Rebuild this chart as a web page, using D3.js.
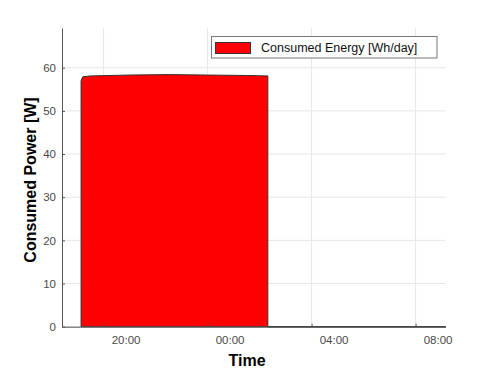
<!DOCTYPE html>
<html><head><meta charset="utf-8">
<script src="https://cdn.jsdelivr.net/npm/d3@7"></script>
<style>body{margin:0;background:#fff}svg{display:block;font-family:"Liberation Sans",Arial,sans-serif}</style>
</head><body>
<svg id="c" width="496" height="371"></svg>
<script>
const times = ["2021-01-01T19:08","2021-01-01T19:08","2021-01-01T19:12","2021-01-01T19:30","2021-01-01T21:00","2021-01-01T22:30","2021-01-02T00:00","2021-01-02T01:30","2021-01-02T02:19","2021-01-02T02:19","2021-01-02T09:09"];
const power = [0,57,57.9,58.1,58.3,58.4,58.3,58.2,58.1,0,0];
const yTicks = [0,10,20,30,40,50,60];
const xTickTimes = ["2021-01-01T20:00","2021-01-02T00:00","2021-01-02T04:00","2021-01-02T08:00"];
const xTickLabels = ["20:00","00:00","04:00","08:00"];
const legendLabel = "Consumed Energy [Wh/day]";
const xDomain = ["2021-01-01T18:24","2021-01-02T09:09"];
const yDomain = [0,69.2];

const parse = d3.isoParse;
const data = times.map((t,i)=>({t:parse(t), v:power[i]}));
const svg = d3.select("#c");
const L=62, R=445.5, T=28, B=326.7;
const x = d3.scaleTime().domain(xDomain.map(parse)).range([L,R]);
const y = d3.scaleLinear().domain(yDomain).range([B,T]);

const grid = svg.append("g").attr("stroke","#e6e6e6").attr("stroke-width",1);
yTicks.forEach(v=>grid.append("line").attr("x1",L).attr("x2",R).attr("y1",y(v)).attr("y2",y(v)));
xTickTimes.forEach(t=>grid.append("line").attr("x1",x(parse(t))).attr("x2",x(parse(t))).attr("y1",T).attr("y2",B));

const area = d3.area().x(d=>x(d.t)).y0(y(0)).y1(d=>y(d.v));
svg.append("path").datum(data).attr("d",area).attr("fill","#ff0000").attr("stroke","#333").attr("stroke-width",1);

const yAxis = d3.axisLeft(y).tickValues(yTicks).tickSize(-3).tickPadding(6).tickSizeOuter(0);
const gy = svg.append("g").attr("transform",`translate(${L},0)`).call(yAxis);
gy.select(".domain").attr("stroke","#555");
gy.selectAll(".tick line").attr("stroke","#555");
gy.selectAll("text").attr("fill","#4a4a4a").style("font-size","11.5px");

const xAxis = d3.axisBottom(x).tickValues(xTickTimes.map(parse)).tickFormat((d,i)=>xTickLabels[i]).tickSize(-3).tickPadding(9).tickSizeOuter(0);
const gx = svg.append("g").attr("transform",`translate(0,${B})`).call(xAxis);
gx.select(".domain").attr("stroke","#555");
gx.selectAll(".tick line").attr("stroke","#555");
gx.selectAll("text").attr("fill","#4a4a4a").style("font-size","11.5px").attr("dx",22);

svg.append("path").datum(data.slice(-2)).attr("d",d3.line().x(d=>x(d.t)).y(d=>y(d.v))).attr("stroke","#444").attr("stroke-width",1.2).attr("fill","none");

svg.append("text").attr("transform","translate(36,180) rotate(-90)").attr("text-anchor","middle")
  .style("font-size","16px").style("font-weight","bold").attr("fill","#000").text("Consumed Power [W]");
svg.append("text").attr("x",247).attr("y",366).attr("text-anchor","middle")
  .style("font-size","16px").style("font-weight","bold").attr("fill","#000").text("Time");

const lg = svg.append("g");
lg.append("rect").attr("x",211.5).attr("y",36.5).attr("width",225.5).attr("height",21.5).attr("fill","#fff").attr("stroke","#777");
lg.append("rect").attr("x",215.5).attr("y",42.5).attr("width",35).attr("height",11).attr("fill","#ff0000").attr("stroke","#333");
lg.append("text").attr("x",261).attr("y",52).style("font-size","12.5px").attr("fill","#111").text(legendLabel);
</script>
</body></html>
